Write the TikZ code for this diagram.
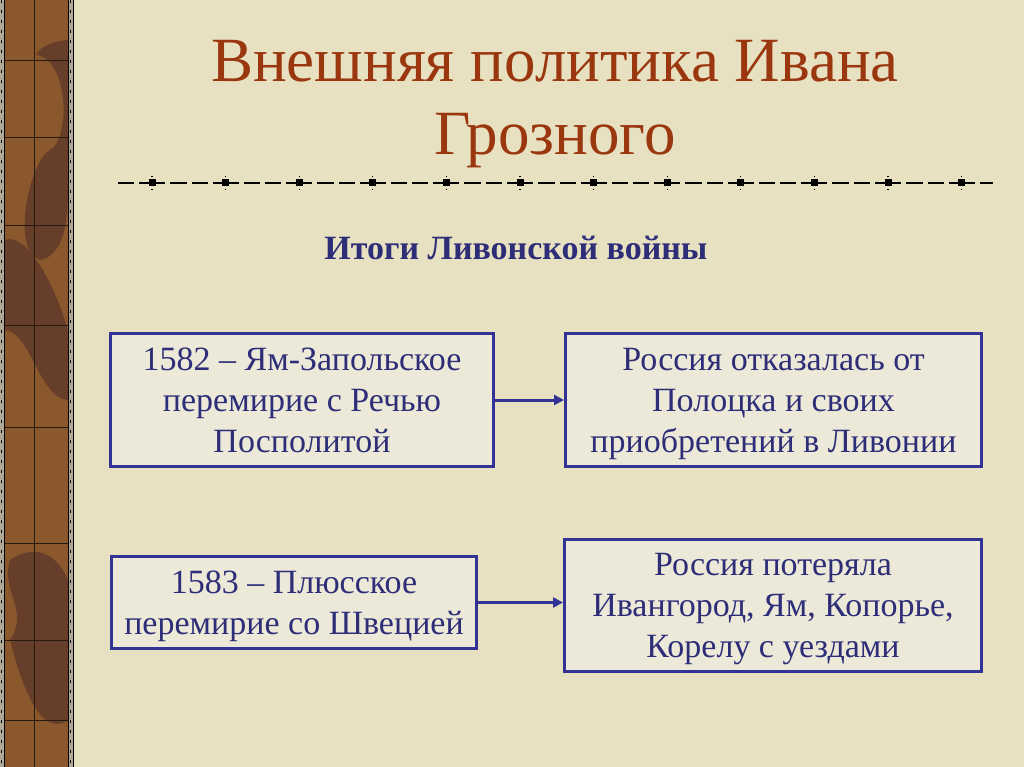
\documentclass[tikz,border=0pt]{standalone}
\usepackage{fontspec}
\setmainfont{Liberation Serif}
\usetikzlibrary{positioning,arrows.meta,calc,shapes}
\definecolor{slidebg}{RGB}{231,225,193}
\definecolor{boxfill}{RGB}{236,233,217}
\definecolor{boxline}{RGB}{51,51,150}
\definecolor{boxtext}{RGB}{45,45,120}
\definecolor{titlebrown}{RGB}{155,55,15}
\definecolor{wood}{RGB}{138,88,44}
\definecolor{wooddark}{RGB}{88,52,40}
\definecolor{stripedge}{RGB}{175,168,150}
\tikzset{
    x=1pt,
    y=1pt,
    >={Triangle[length=10pt,width=10pt]},
    event/.style = {
        draw=boxline,
        fill=boxfill,
        shape=rectangle,
        line width=3pt,
        inner sep=0pt,
        text depth=0pt,
        align=center,
        text=boxtext,
        font=\fontsize{34}{41}\selectfont
    },
    slidetitle/.style = {
        align=center,
        text=titlebrown,
        font=\fontsize{63}{73}\selectfont
    },
    subtitle/.style = {
        text=boxtext,
        font=\fontsize{34}{40}\selectfont\bfseries
    },
    link/.style = {
        draw=boxline,
        line width=3pt
    },
    separator/.style = {
        draw=black,
        line width=2pt,
        dash pattern=on 16pt off 5pt on 26pt off 5pt on 16.6pt off 5pt
    }
}

\begin{document}
\begin{tikzpicture}
            \useasboundingbox (0,0) rectangle (1024,-767);
            \fill[slidebg] (0,0) rectangle (1024,-767);

            \fill[wood] (0,0) rectangle (72,-767);
            \fill[wooddark, opacity=0.7] (36,-55) .. controls (70,-60) and (70,-140) .. (50,-150) .. controls (30,-160) and (10,-250) .. (40,-260) .. controls (70,-255) and (68,-200) .. (68,-180) -- (68,-40) .. controls (60,-40) and (40,-45) .. (36,-55);
            \fill[wooddark, opacity=0.7] (4,-240) .. controls (30,-230) and (60,-300) .. (68,-330) -- (68,-400) .. controls (40,-400) and (30,-330) .. (4,-330);
            \fill[wooddark, opacity=0.7] (10,-560) .. controls (40,-540) and (60,-560) .. (68,-580) -- (68,-720) .. controls (40,-740) and (20,-680) .. (10,-640) .. controls (30,-610) and (0,-590) .. (10,-560);
            \draw[black!80!brown, line width=0.8pt] (34,0) -- (34,-767);
            \foreach \y in {60,137,225,325,427,543,640,720}
                \draw[black!80!brown, line width=0.8pt] (4,-\y) -- (68,-\y);
            \fill[stripedge] (0,0) rectangle (4,-767);
            \fill[stripedge] (68,0) rectangle (74,-767);
            \draw[black, line width=1.2pt, dash pattern=on 3pt off 7pt] (1.5,0) -- (1.5,-767);
            \draw[black, line width=1.2pt, dash pattern=on 3pt off 7pt] (70.5,0) -- (70.5,-767);
            \draw[black, line width=0.8pt] (4,0) -- (4,-767);
            \draw[black, line width=0.8pt] (68,0) -- (68,-767);
            \draw[black, line width=0.8pt] (73,0) -- (73,-767);

            \node[slidetitle] (title) at (555,-104) {Внешняя политика Ивана\\Грозного};

            \coordinate (sepleft) at (118,-183);
            \coordinate (sepright) at (993,-183);
            \path[separator] (sepleft) -- (sepright);
            \foreach \k in {0,...,11} {
                \fill[black] ({152+73.6*\k-3.5},-179.5) rectangle ++(7,-7);
                \fill[black] ({152+73.6*\k-0.6},-176) rectangle ++(1.2,-1.2);
                \fill[black] ({152+73.6*\k-0.6},-189) rectangle ++(1.2,-1.2);
            }

            \node[subtitle, anchor=base] (outcome) at (516,-259) {Итоги Ливонской войны};

            \node[event, minimum width=383, minimum height=133] (yamzap) at (302,-400) {1582 – Ям-Запольское\\перемирие с Речью\\Посполитой};
            \node[event, minimum width=416, minimum height=133] (polotsk) at (773.5,-400) {Россия отказалась от\\Полоцка и своих\\приобретений в Ливонии};
            \node[event, minimum width=365, minimum height=92] (plyussa) at (294,-602.5) {1583 – Плюсское\\перемирие со Швецией};
            \node[event, minimum width=417, minimum height=132] (losses) at (773,-605.5) {Россия потеряла\\Ивангород, Ям, Копорье,\\Корелу с уездами};

            \path[link, ->] (yamzap.east) -- (polotsk.west);
            \path[link, ->] (plyussa.east) -- (plyussa.east -| losses.west);

        \end{tikzpicture}
\end{document}
